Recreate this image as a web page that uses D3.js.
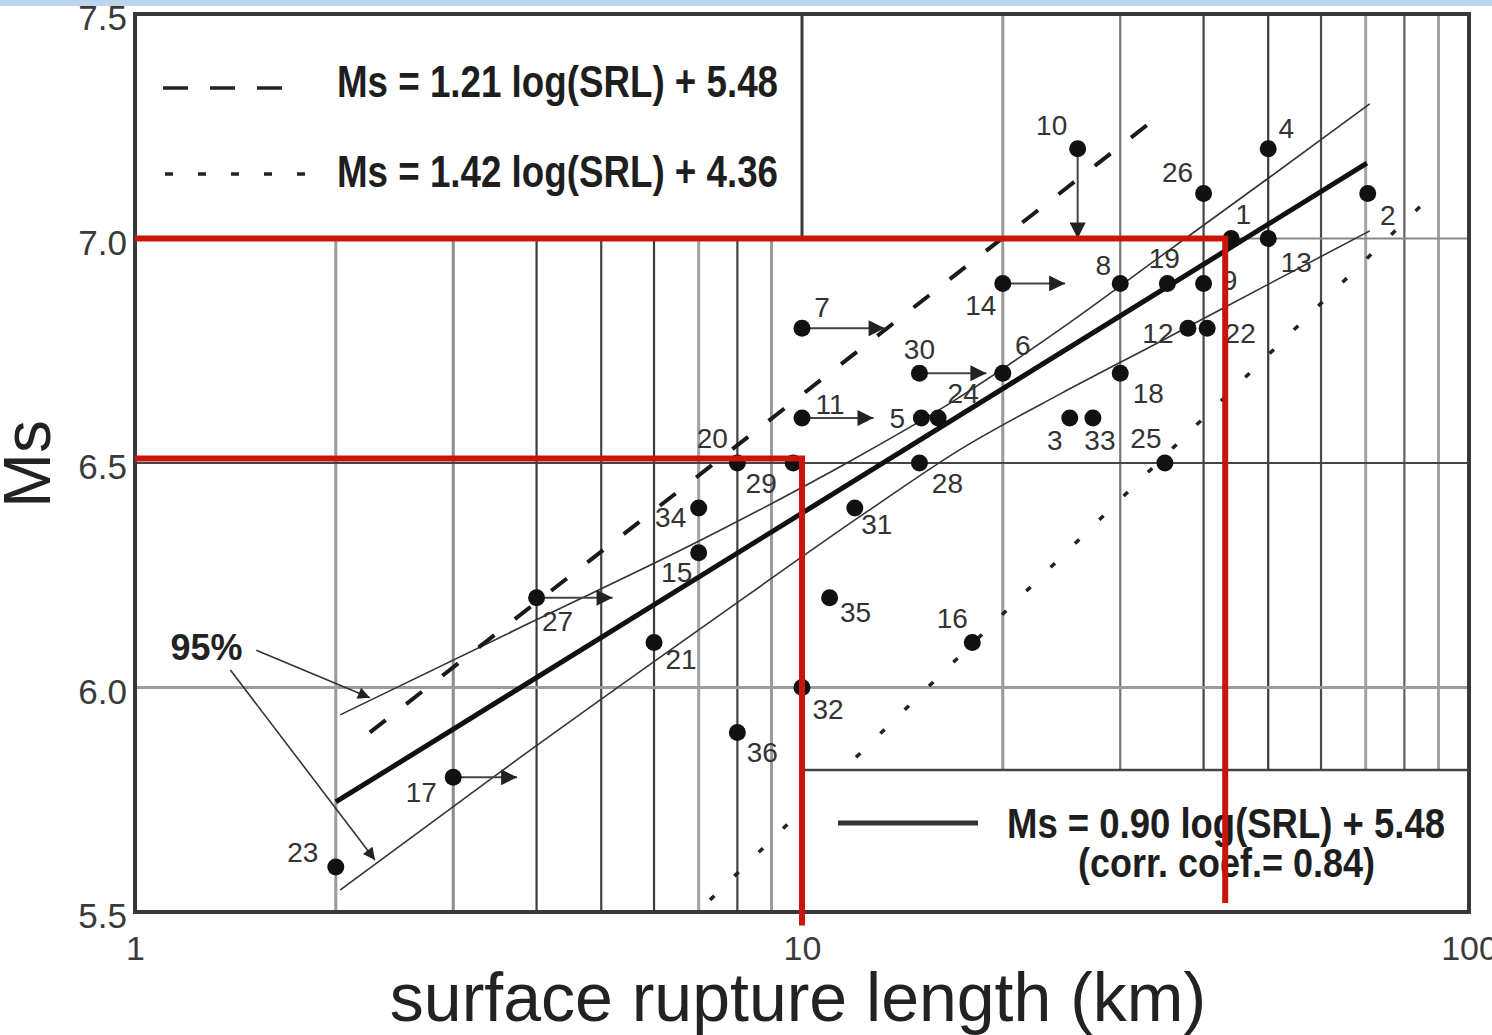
<!DOCTYPE html>
<html>
<head>
<meta charset="utf-8">
<title>Ms vs surface rupture length</title>
<script src="https://cdn.jsdelivr.net/npm/d3@7"></script>
<style>
  body { margin: 0; background: #fff; }
  svg { display: block; font-family: "Liberation Sans", Arial, Helvetica, sans-serif; }
</style>
</head>
<body>
<script>
// --- data ---
const eventId  = [1, 2, 3, 4, 5, 6, 7, 8, 9, 10, 11, 12, 13, 14, 15, 16, 17, 18,
                  19, 20, 21, 22, 23, 24, 25, 26, 27, 28, 29, 30, 31, 32, 33, 34, 35, 36];
const eventSrl = [44, 70.5, 25.2, 50, 15.1, 20, 10, 30, 40, 25.9, 10, 37.9, 50, 20, 7, 18, 3, 30,
                  35.3, 8, 6, 40.5, 2, 16, 35, 40, 4, 15, 9.7, 15, 12, 10, 27.3, 7, 11, 8];
const eventMs  = [7.0, 7.1, 6.6, 7.2, 6.6, 6.7, 6.8, 6.9, 6.9, 7.2, 6.6, 6.8, 7.0, 6.9, 6.3, 6.1, 5.8, 6.7,
                  6.9, 6.5, 6.1, 6.8, 5.6, 6.6, 6.5, 7.1, 6.2, 6.5, 6.5, 6.7, 6.4, 6.0, 6.6, 6.4, 6.2, 5.9];

// events that are only bounds: arrow from the event to [srl, Ms]
const boundId  = [7, 11, 14, 17, 27, 30, 10];
const boundSrl = [13.3, 12.8, 24.8, 3.74, 5.2, 18.9, 25.9];
const boundMs  = [6.8, 6.6, 6.9, 5.8, 6.2, 6.7, 7.0];

// regression lines
const mainFit   = [[2, 5.745], [70.3, 7.168]];
const dashedFit = [[2.25, 5.90], [34.4, 7.275]];
const dottedFit = [[7.28, 5.527], [85, 7.075]];
const upperBand = [[2.03, 5.939], [3.91, 6.144], [6.96, 6.324], [11.8, 6.504], [16.7, 6.634],
                   [24.4, 6.798], [34.4, 6.959], [50.3, 7.137], [71, 7.30]];
const lowerBand = [[2.03, 5.549], [3.56, 5.816], [7.28, 6.146], [12.5, 6.391], [17.3, 6.531],
                   [24.4, 6.654], [34.4, 6.77], [50.3, 6.90], [71, 7.017]];

// "95%" callout
const pctText   = [1.13, 6.061];
const pctArrows = [[[1.52, 6.083], [2.25, 5.977]], [[1.39, 6.039], [2.29, 5.616]]];

// red guide lines drawn over the chart
const guideSrl  = [10, 43.1];
const guideMs   = [6.51, 7.0];
const guideFoot = [5.47, 5.52];

const xTicks = [1, 10, 100];
const yTicks = [5.5, 6.0, 6.5, 7.0, 7.5];
const gridX  = [2, 3, 4, 5, 6, 7, 8, 9, 20, 30, 40, 50, 60, 70, 80, 90];
const gridY  = [6.0, 6.5, 7.0];

const legendTop = ["Ms = 1.21 log(SRL) + 5.48", "Ms = 1.42 log(SRL) + 4.36"];
const legendBottom = ["Ms = 0.90 log(SRL) + 5.48", "(corr. coef.= 0.84)"];

// --- layout / style ---
const W = 1492, H = 1035;
const gridXColor = ["#9a9a9a", "#8c8c8c", "#3c3c3c", "#454545", "#3c3c3c", "#a3a3a3", "#444", "#9a9a9a",
                    "#9a9a9a", "#777", "#444", "#3a3a3a", "#4a4a4a", "#a3a3a3", "#606060", "#a3a3a3"];
const gridYColor = ["#9c9c9c", "#444", "#888"];
// label position relative to its dot, in px
const labelNudge = [[12, -24], [20, 22], [-15, 22], [18, -20], [-24, 0], [20, -28], [20, -21], [-17, -18],
                    [26, -3], [-26, -23], [28, -14], [-30, 5], [28, 24], [-22, 22], [-22, 20], [-20, -24],
                    [-32, 15], [28, 20], [-3, -25], [-25, -25], [27, 17], [33, 5], [-33, -15], [25, -25],
                    [-19, -25], [-26, -21], [21, 24], [28, 20], [-32, 20], [0, -24], [22, 17], [26, 22],
                    [7, 22], [-28, 10], [26, 15], [25, 20]];

const x = d3.scaleLog().domain([1, 100]).range([135, 1469]);
const y = d3.scaleLinear().domain([5.5, 7.5]).range([912, 14]);

const svg = d3.select("body").append("svg").attr("width", W).attr("height", H);

const defs = svg.append("defs");
function head(id, w, h) {
  defs.append("marker")
    .attr("id", id)
    .attr("viewBox", "0 0 10 10")
    .attr("refX", 10).attr("refY", 5)
    .attr("markerUnits", "userSpaceOnUse")
    .attr("markerWidth", w).attr("markerHeight", h)
    .attr("orient", "auto")
    .append("path").attr("d", "M0,0L10,5L0,10z").attr("fill", "#222");
}
head("head", 18, 16);
head("headSmall", 16, 12);

// grid
svg.append("g").selectAll("line").data(gridX).join("line")
  .attr("x1", d => x(d)).attr("x2", d => x(d))
  .attr("y1", y(7.5)).attr("y2", y(5.5))
  .attr("stroke", (d, i) => gridXColor[i])
  .attr("stroke-width", (d, i) => gridXColor[i] > "#800000" ? 3 : 2.2);

svg.append("g").selectAll("line").data(gridY).join("line")
  .attr("x1", x(1)).attr("x2", x(100))
  .attr("y1", d => y(d)).attr("y2", d => y(d))
  .attr("stroke", (d, i) => gridYColor[i])
  .attr("stroke-width", (d, i) => i === 0 ? 3 : 2.2);

// fitted lines
const straight = d3.line().x(d => x(d[0])).y(d => y(d[1]));
const smooth = d3.line().x(d => x(d[0])).y(d => y(d[1])).curve(d3.curveMonotoneX);

svg.append("path").attr("d", smooth(upperBand))
  .attr("fill", "none").attr("stroke", "#333").attr("stroke-width", 1.6);
svg.append("path").attr("d", smooth(lowerBand))
  .attr("fill", "none").attr("stroke", "#333").attr("stroke-width", 1.6);
svg.append("path").attr("d", straight(dottedFit))
  .attr("fill", "none").attr("stroke", "#222").attr("stroke-width", 3.5)
  .attr("stroke-dasharray", "6 28");
svg.append("path").attr("d", straight(dashedFit))
  .attr("fill", "none").attr("stroke", "#1a1a1a").attr("stroke-width", 4)
  .attr("stroke-dasharray", "20 26");
svg.append("path").attr("d", straight(mainFit))
  .attr("fill", "none").attr("stroke", "#111").attr("stroke-width", 5);

// legend boxes (cover the grid)
svg.append("rect")
  .attr("x", x(1)).attr("y", y(7.5))
  .attr("width", x(10) - x(1)).attr("height", y(7.0) - y(7.5) - 1.5)
  .attr("fill", "#fff");
svg.append("line")
  .attr("x1", x(10)).attr("x2", x(10)).attr("y1", y(7.5)).attr("y2", y(7.0))
  .attr("stroke", "#3a3a3a").attr("stroke-width", 3);

const boxTop = y(5.816);
svg.append("rect")
  .attr("x", x(10)).attr("y", boxTop)
  .attr("width", x(100) - x(10)).attr("height", y(5.5) - boxTop)
  .attr("fill", "#fff");
svg.append("line")
  .attr("x1", x(10)).attr("x2", x(100)).attr("y1", boxTop).attr("y2", boxTop)
  .attr("stroke", "#444").attr("stroke-width", 2.5);

// legend content
const lg = svg.append("g").attr("fill", "#1e1e1e").attr("font-weight", "bold");
lg.append("line").attr("x1", 163).attr("x2", 288).attr("y1", 88).attr("y2", 88)
  .attr("stroke", "#222").attr("stroke-width", 3.5).attr("stroke-dasharray", "25 22");
lg.append("line").attr("x1", 165).attr("x2", 308).attr("y1", 174).attr("y2", 174)
  .attr("stroke", "#222").attr("stroke-width", 3.5).attr("stroke-dasharray", "8 25");
lg.append("text").attr("x", 337).attr("y", 97).attr("font-size", 44)
  .attr("textLength", 441).attr("lengthAdjust", "spacingAndGlyphs").text(legendTop[0]);
lg.append("text").attr("x", 337).attr("y", 187).attr("font-size", 44)
  .attr("textLength", 441).attr("lengthAdjust", "spacingAndGlyphs").text(legendTop[1]);

lg.append("line").attr("x1", 838).attr("x2", 978).attr("y1", 823).attr("y2", 823)
  .attr("stroke", "#333").attr("stroke-width", 5);
lg.append("text").attr("x", 1007).attr("y", 838).attr("font-size", 42)
  .attr("textLength", 438).attr("lengthAdjust", "spacingAndGlyphs").text(legendBottom[0]);
lg.append("text").attr("x", 1078).attr("y", 877).attr("font-size", 40)
  .attr("textLength", 297).attr("lengthAdjust", "spacingAndGlyphs").text(legendBottom[1]);

// "95%" callout
svg.append("text").attr("x", x(pctText[0])).attr("y", y(pctText[1]))
  .attr("font-size", 36).attr("font-weight", "bold").attr("fill", "#222")
  .attr("textLength", 72).attr("lengthAdjust", "spacingAndGlyphs").text("95%");
svg.append("g").selectAll("path").data(pctArrows).join("path")
  .attr("d", straight).attr("fill", "none")
  .attr("stroke", "#333").attr("stroke-width", 1.6)
  .attr("marker-end", "url(#headSmall)");

// bound arrows
const byId = new Map(eventId.map((id, i) => [id, i]));
svg.append("g").selectAll("line").data(boundId).join("line")
  .attr("x1", d => x(eventSrl[byId.get(d)])).attr("y1", d => y(eventMs[byId.get(d)]))
  .attr("x2", (d, i) => x(boundSrl[i])).attr("y2", (d, i) => y(boundMs[i]))
  .attr("stroke", "#444").attr("stroke-width", 2)
  .attr("marker-end", "url(#head)");

// events
svg.append("g").selectAll("circle").data(eventId).join("circle")
  .attr("cx", (d, i) => x(eventSrl[i])).attr("cy", (d, i) => y(eventMs[i]))
  .attr("r", 8.5).attr("fill", "#111");

svg.append("g").attr("font-size", 28).attr("fill", "#333")
  .attr("text-anchor", "middle").attr("dominant-baseline", "central")
  .selectAll("text").data(eventId).join("text")
  .attr("x", (d, i) => x(eventSrl[i]) + labelNudge[i][0])
  .attr("y", (d, i) => y(eventMs[i]) + labelNudge[i][1])
  .text(d => d);

// frame
svg.append("rect")
  .attr("x", x(1)).attr("y", y(7.5))
  .attr("width", x(100) - x(1)).attr("height", y(5.5) - y(7.5))
  .attr("fill", "none").attr("stroke", "#383838").attr("stroke-width", 4);

// axes
const xAxis = svg.append("g").attr("transform", `translate(0,${y(5.5)})`)
  .call(d3.axisBottom(x).tickValues(xTicks).tickFormat(d3.format("d")).tickSize(0).tickPadding(24));
const yAxis = svg.append("g").attr("transform", `translate(${x(1)},0)`)
  .call(d3.axisLeft(y).tickValues(yTicks).tickFormat(d3.format(".1f")).tickSize(0).tickPadding(8));
[xAxis, yAxis].forEach(a => {
  a.select(".domain").remove();
  a.selectAll("text").attr("font-family", null).attr("fill", "#3a3a3a");
});
xAxis.attr("font-size", 34);
yAxis.attr("font-size", 35);
yAxis.selectAll("text").attr("dy", "0.45em");

svg.append("text")
  .attr("x", 798).attr("y", 1021)
  .attr("text-anchor", "middle").attr("font-size", 68).attr("fill", "#222")
  .text("surface rupture length (km)");
svg.append("text")
  .attr("transform", "translate(50,464) rotate(-90)")
  .attr("text-anchor", "middle").attr("font-size", 66).attr("fill", "#222")
  .text("Ms");

// red guides
const guides = svg.append("g").attr("stroke", "#c8160c").attr("stroke-width", 6).attr("fill", "none");
guideSrl.forEach((s, i) => {
  guides.append("path")
    .attr("d", `M${x(1)},${y(guideMs[i])}H${x(s)}V${y(guideFoot[i])}`);
});

// light blue strip at the top edge
svg.append("rect").attr("width", W).attr("height", 6).attr("fill", "#bcd5ec");
</script>
</body>
</html>
